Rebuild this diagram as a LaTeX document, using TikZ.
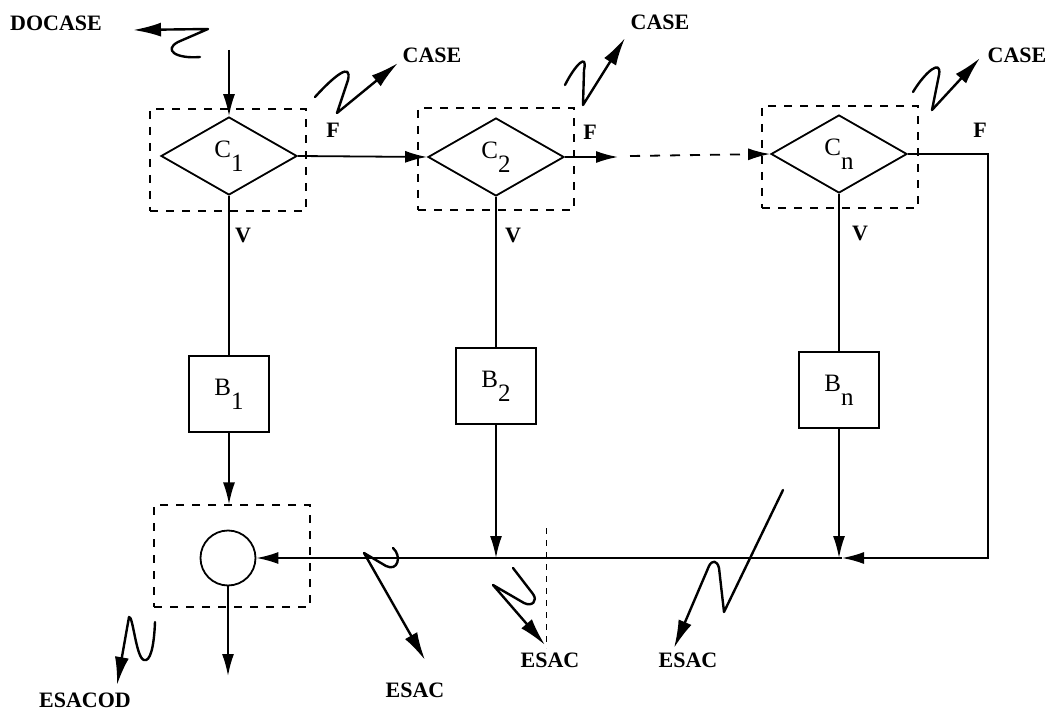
\documentclass[tikz,border=0pt]{standalone}
\usepackage{fontspec}
\setmainfont{Liberation Serif}
\usetikzlibrary{arrows.meta,shapes.geometric}

\newcommand{\rotulo}[2]{#1\raisebox{-1.2ex}{#2}}

\begin{document}
\begin{tikzpicture}[
    x=0.5pt,y=-0.5pt,
    every node/.style={font=\fontsize{11}{13}\selectfont\bfseries},
    teste/.style={draw,diamond,line width=0.9pt,minimum width=68pt,
      minimum height=39pt,inner sep=0pt,
      font=\fontsize{12.5}{14}\selectfont\mdseries},
    bloco/.style={draw,line width=0.9pt,minimum width=40pt,
      minimum height=38pt,inner sep=0pt,
      font=\fontsize{12.5}{14}\selectfont\mdseries},
    caixa/.style={draw,dash pattern=on 4pt off 4pt,line width=0.6pt,
      minimum width=78pt,minimum height=51pt,inner sep=0pt},
    fluxo/.style={-{Latex[length=11pt,width=6pt]},line width=0.9pt},
    linha/.style={line width=0.9pt},
    rabisco/.style={-{Latex[length=14pt,width=7pt]},line width=1.2pt,
      line join=round,line cap=round}
  ]
  \useasboundingbox (0,0) rectangle (1049,711);

  % caixas tracejadas
  \node[caixa] (q1) at (228,160) {};
  \node[caixa] (q2) at (496,159) {};
  \node[caixa] (qn) at (840,157) {};
  \node[caixa] (q4) at (232,556) {};

  % testes e blocos
  \node[teste] (c1) at (229,156) {\rotulo{C}{1}};
  \node[teste] (c2) at (496,157) {\rotulo{C}{2}};
  \node[teste] (cn) at (839,154) {\rotulo{C}{n}};
  \node[bloco] (b1) at (229,394) {\rotulo{B}{1}};
  \node[bloco] (b2) at (496,386) {\rotulo{B}{2}};
  \node[bloco] (bn) at (839,390) {\rotulo{B}{n}};
  \node[draw,circle,line width=0.9pt,minimum size=27.5pt,inner sep=0pt]
    (juncao) at (228,558) {};

  % textos
  \node (docase) at (56,23) {DOCASE};
  \node (case1) at (432,55) {CASE};
  \node (case2) at (660,22) {CASE};
  \node (casen) at (1017,55) {CASE};
  \node (esacod) at (85,700) {ESACOD};
  \node (esac1) at (415,690) {ESAC};
  \node (esac2) at (550,660) {ESAC};
  \node (esac3) at (688,660) {ESAC};
  \node (f1) at (333,130) {F};
  \node (f2) at (590,132) {F};
  \node (fn) at (980,130) {F};
  \node (v1) at (243,235) {V};
  \node (v2) at (513,235) {V};
  \node (vn) at (860,233) {V};

  \coordinate (entrada) at (229,50);
  \coordinate (passo) at (618,157);
  \coordinate (tracejado) at (630,156);
  \coordinate (volta) at (988,558);
  \coordinate (j2) at (496,558);
  \coordinate (jn) at (839,558);
  \coordinate (jn2) at (842,558);
  \coordinate (saida) at (228,676);
  \coordinate (marca1) at (546,528);
  \coordinate (marca2) at (546,648);

  % fluxo principal
  \draw[fluxo] (entrada) -- (c1.north);
  \draw[fluxo] (c1.east) -- (c2.west);
  \draw[fluxo] (c2.east) -- (passo);
  \draw[fluxo,dash pattern=on 5pt off 5pt] (tracejado) -- (cn.west);
  \draw[linha] (c1.south) -- (b1.north);
  \draw[linha] (c2.south) -- (b2.north);
  \draw[linha] (cn.south) -- (bn.north);
  \draw[fluxo] (b1.south) -- (b1.south |- q4.north);
  \draw[fluxo] (b2.south) -- (j2);
  \draw[fluxo] (bn.south) -- (jn);
  \draw[fluxo] (cn.east) -| (volta) -- (jn2);
  \draw[fluxo] (jn2) -- (juncao.east);
  \draw[fluxo] (juncao.south) -- (saida);
  \draw[dash pattern=on 3pt off 3pt,line width=0.4pt] (marca1) -- (marca2);

  % rabiscos
  \draw[rabisco] (200,57) .. controls (176,59) and (163,50) .. (178,42)
    -- (208,29) -- (133,30);
  \draw[rabisco] (315,97) .. controls (335,75) and (352,62) .. (348,80)
    -- (337,113) -- (398,63);
  \draw[rabisco] (565,85) .. controls (575,65) and (588,52) .. (584,70)
    -- (583,105) -- (625,38);
  \draw[rabisco] (913,92) .. controls (925,72) and (942,58) .. (939,75)
    -- (932,110) -- (980,58);
  \draw[rabisco] (155,622) .. controls (154,648) and (150,662) .. (144,660)
    .. controls (136,658) and (133,615) .. (129,617) -- (117,685);
  \draw[rabisco] (393,548) .. controls (402,556) and (398,572) .. (386,566)
    -- (364,553) -- (425,660);
  \draw[rabisco] (513,568) -- (533,594) .. controls (538,601) and (532,607) .. (524,603)
    -- (493,585) -- (545,645);
  \draw[rabisco] (783,490) -- (724,612) -- (719,568)
    .. controls (717,560) and (712,560) .. (709,566) -- (674,648);
\end{tikzpicture}
\end{document}
